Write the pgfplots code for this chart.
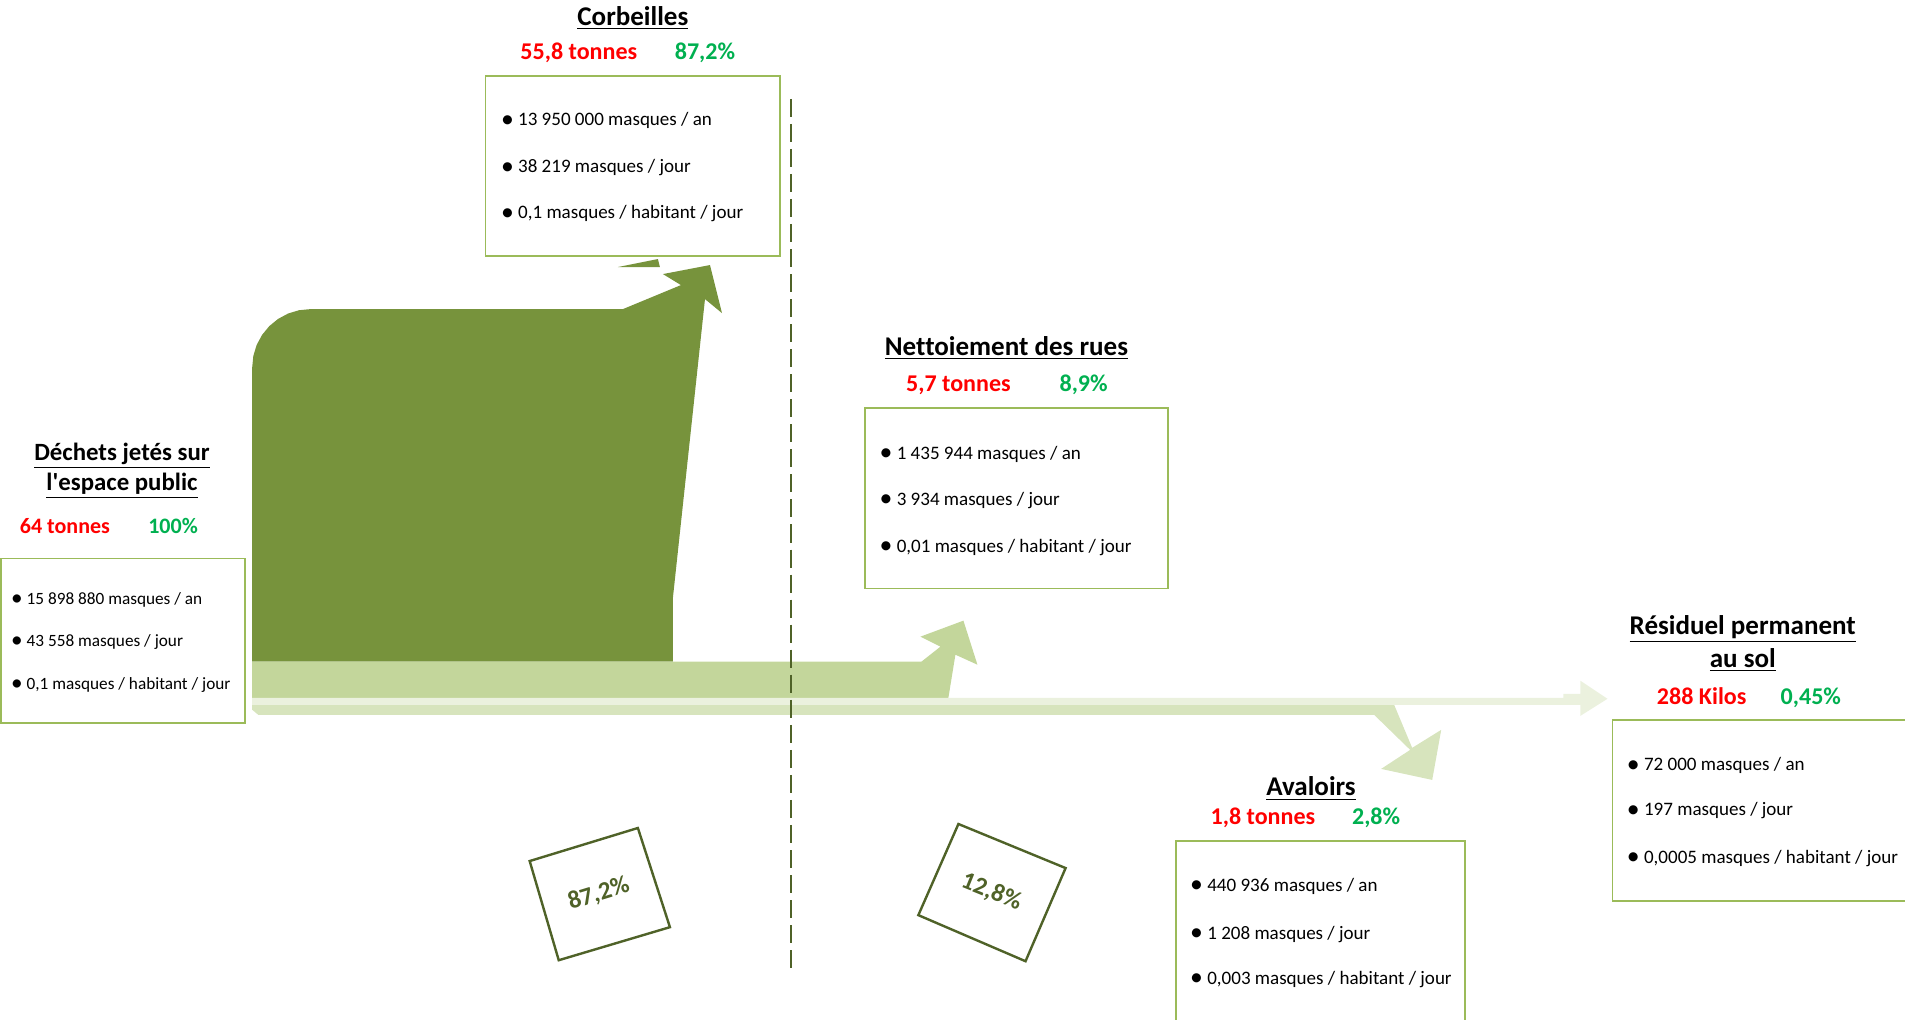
\documentclass[border=0pt]{standalone}
\usepackage{fontspec}
\setmainfont{Carlito}[Ligatures={NoCommon}]
\usepackage{graphicx}
\usepackage{pgfplots}
\pgfplotsset{compat=1.18}
\definecolor{dkgreen}{HTML}{77933C}
\definecolor{midgreen}{HTML}{C3D69B}
\definecolor{ltgreen}{HTML}{D7E4BD}
\definecolor{pale}{HTML}{EBF1DE}
\definecolor{olive}{HTML}{4F6228}
\definecolor{boxgreen}{HTML}{9BBB59}
\definecolor{myred}{HTML}{FF0000}
\definecolor{mygreen}{HTML}{00B050}
\newcommand{\ttl}[1]{{\fontsize{13.5}{16}\selectfont\bfseries\underline{#1}}}
\newcommand{\ttlsmall}[1]{{\fontsize{12.4}{15}\selectfont\bfseries\underline{#1}}}
\newcommand{\rd}[1]{{\fontsize{12}{14}\selectfont\bfseries\color{myred}#1}}
\newcommand{\gr}[1]{{\fontsize{12}{14}\selectfont\bfseries\color{mygreen}#1}}
\newcommand{\rds}[1]{{\fontsize{11}{13}\selectfont\bfseries\color{myred}#1}}
\newcommand{\grs}[1]{{\fontsize{11}{13}\selectfont\bfseries\color{mygreen}#1}}
\newcommand{\bul}{\raisebox{-0.07em}{\scalebox{1.35}{\textbullet}}}
\newcommand{\bl}[1]{{\fontsize{9.5}{11}\selectfont\bul\ #1}}
\newcommand{\bls}[1]{{\fontsize{8.6}{10}\selectfont\bul\ #1}}
\begin{document}
\begin{tikzpicture}
\begin{axis}[width=952.5pt,height=510.5pt,scale only axis,
  xmin=0,xmax=1905,ymin=0,ymax=1021,y dir=reverse,hide axis,no markers,clip=true]
% main flow: Corbeilles
\addplot[fill=dkgreen,draw=none] coordinates {(255,664) (255,370) (256.1,358.7) (259.4,347.8) (264.8,337.8) (272.0,329.0) (280.8,321.8) (290.8,316.4) (301.7,313.1) (313,312) (625,312) (683,288) (665,277) (712,268) (724,316) (707,302) (675,600) (675,664)} -- cycle;
\addplot[fill=dkgreen,draw=none] coordinates {(620,270) (660,262) (662,270)} -- cycle;
% Nettoiement
\addplot[fill=midgreen,draw=none] coordinates {(255,664) (923,664) (942,649) (922,639) (965,623) (979,667) (957,657) (950,700) (255,700)} -- cycle;
% Avaloirs
\addplot[fill=ltgreen,draw=none] coordinates {(255,707) (1395,707) (1413,750) (1442,732) (1433,782) (1382,771) (1411,752) (1375,717) (261,717) (255,712)} -- cycle;
% Residuel
\addplot[fill=pale,draw=none] coordinates {(255,700) (1564,700) (1564,696) (1581,696) (1581,683) (1608,701) (1581,718) (1581,707) (255,707)} -- cycle;
% dashed separator
\addplot[olive,line width=1.2pt,dash pattern=on 9pt off 3.5pt] coordinates {(793,102) (793,976)};
% boxes
\addplot[draw=boxgreen,line width=0.8pt,fill=white] coordinates {(4,561) (248,561) (248,725) (4,725)} -- cycle;
\addplot[draw=boxgreen,line width=0.8pt,fill=white] coordinates {(488,79) (782,79) (782,259) (488,259)} -- cycle;
\addplot[draw=boxgreen,line width=0.8pt,fill=white] coordinates {(867,411) (1169,411) (1169,591) (867,591)} -- cycle;
\addplot[draw=boxgreen,line width=0.8pt,fill=white] coordinates {(1177,843) (1466,843) (1466,1040) (1177,1040)} -- cycle;
\addplot[draw=boxgreen,line width=0.8pt,fill=white] coordinates {(1613,722) (1920,722) (1920,903) (1613,903)} -- cycle;
% rotated squares
\addplot[draw=olive,line width=1.2pt] coordinates {(532,863) (640,830) (672,929) (561,962)} -- cycle;
\addplot[draw=olive,line width=1.2pt] coordinates {(960,826) (1067,870) (1027,963) (920,917)} -- cycle;
\node[rotate=17,text=olive,font=\fontsize{12.5}{14}\selectfont\bfseries] at (axis cs:601,896) {87,2\%};
\node[rotate=-22,text=olive,font=\fontsize{12.5}{14}\selectfont\bfseries] at (axis cs:993,894) {12,8\%};
% Dechets
\node[anchor=base] at (axis cs:125,463) {\ttlsmall{Déchets jetés sur}};
\node[anchor=base] at (axis cs:125,493) {\ttlsmall{l\textquotesingle espace public}};
\node[anchor=base] at (axis cs:68,536) {\rds{64 tonnes}};
\node[anchor=base] at (axis cs:176,536) {\grs{100\%}};
\node[anchor=base west,inner sep=0pt] at (axis cs:14,607) {\bls{15 898 880 masques / an}};
\node[anchor=base west,inner sep=0pt] at (axis cs:14,649) {\bls{43 558 masques / jour}};
\node[anchor=base west,inner sep=0pt] at (axis cs:14,692) {\bls{0,1 masques / habitant / jour}};
% Corbeilles
\node[anchor=base] at (axis cs:635,29) {\ttl{Corbeilles}};
\node[anchor=base] at (axis cs:581,63) {\rd{55,8 tonnes}};
\node[anchor=base] at (axis cs:707,63) {\gr{87,2\%}};
\node[anchor=base west,inner sep=0pt] at (axis cs:503,129) {\bl{13 950 000 masques / an}};
\node[anchor=base west,inner sep=0pt] at (axis cs:503,176) {\bl{38 219 masques / jour}};
\node[anchor=base west,inner sep=0pt] at (axis cs:503,222) {\bl{0,1 masques / habitant / jour}};
% Nettoiement
\node[anchor=base] at (axis cs:1008,358) {\ttl{Nettoiement des rues}};
\node[anchor=base] at (axis cs:960,394) {\rd{5,7 tonnes}};
\node[anchor=base] at (axis cs:1085,394) {\gr{8,9\%}};
\node[anchor=base west,inner sep=0pt] at (axis cs:881,462) {\bl{1 435 944 masques / an}};
\node[anchor=base west,inner sep=0pt] at (axis cs:881,508) {\bl{3 934 masques / jour}};
\node[anchor=base west,inner sep=0pt] at (axis cs:881,555) {\bl{0,01 masques / habitant / jour}};
% Avaloirs
\node[anchor=base] at (axis cs:1312,798) {\ttl{Avaloirs}};
\node[anchor=base] at (axis cs:1264,827) {\rd{1,8 tonnes}};
\node[anchor=base] at (axis cs:1377,827) {\gr{2,8\%}};
\node[anchor=base west,inner sep=0pt] at (axis cs:1191,893) {\bl{440 936 masques / an}};
\node[anchor=base west,inner sep=0pt] at (axis cs:1191,941) {\bl{1 208 masques / jour}};
\node[anchor=base west,inner sep=0pt] at (axis cs:1191,986) {\bl{0,003 masques / habitant / jour}};
% Residuel
\node[anchor=base] at (axis cs:1743,637) {\ttl{Résiduel permanent}};
\node[anchor=base] at (axis cs:1743,670) {\ttl{au sol}};
\node[anchor=base] at (axis cs:1702,707) {\rd{288 Kilos}};
\node[anchor=base] at (axis cs:1811,707) {\gr{0,45\%}};
\node[anchor=base west,inner sep=0pt] at (axis cs:1627,773) {\bl{72 000 masques / an}};
\node[anchor=base west,inner sep=0pt] at (axis cs:1627,818) {\bl{197 masques / jour}};
\node[anchor=base west,inner sep=0pt] at (axis cs:1627,865) {\bl{0,0005 masques / habitant / jour}};
\end{axis}
\end{tikzpicture}
\end{document}
